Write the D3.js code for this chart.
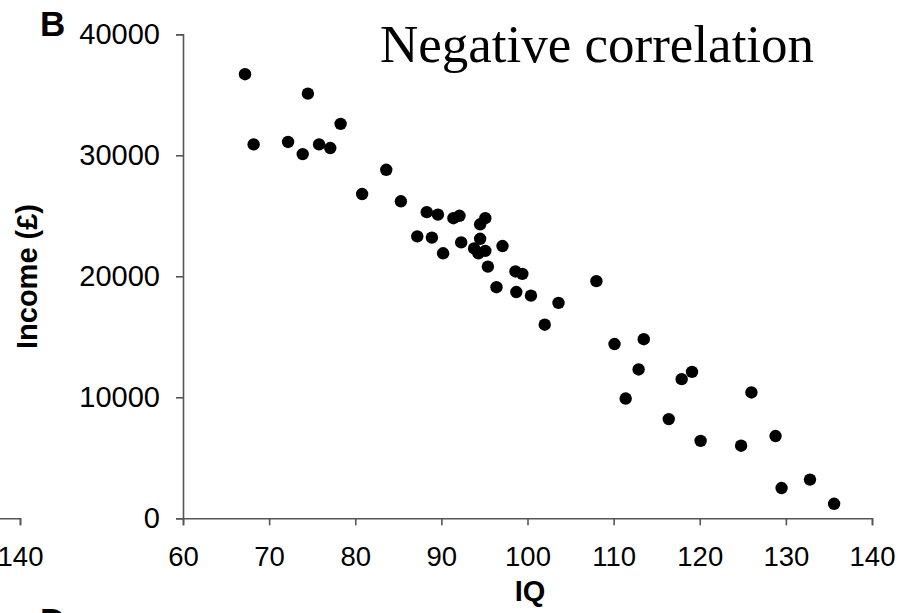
<!DOCTYPE html>
<html>
<head>
<meta charset="utf-8">
<script src="https://cdnjs.cloudflare.com/ajax/libs/d3/7.8.5/d3.min.js"></script>
<style>
  body { margin: 0; background: #fff; }
  .axis text { font-family: "Liberation Sans", Arial, sans-serif; font-size: 27.5px; fill: #000; }
  .y-axis text { font-size: 29px; }
  .axis path, .axis line { stroke: #555; stroke-width: 1.6px; }
</style>
</head>
<body>
<div id="chart"></div>
<script>
// IQ vs income
var iq = [67.2, 68.2, 74.5, 72.2, 73.9, 75.8, 77.1, 78.3, 83.6, 80.8,
  85.3, 88.3, 89.6, 91.4, 92.1, 95.1, 94.5, 87.2, 88.9, 90.2,
  92.3, 94.5, 93.8, 94.3, 95.1, 97.1, 95.4, 98.6, 99.4, 96.4,
  98.7, 100.4, 103.6, 108.0, 102.0, 110.1, 113.5, 112.9, 111.4, 117.9,
  119.1, 126.0, 116.4, 120.1, 124.8, 128.8, 129.5, 132.8, 135.6];
var income = [36700, 30900, 35100, 31100, 30100, 30900, 30600, 32600, 28800, 26800,
  26200, 25300, 25100, 24800, 25000, 24800, 24300, 23300, 23200, 21900,
  22800, 23100, 22300, 21900, 22100, 22500, 20800, 20400, 20200, 19100,
  18700, 18400, 17800, 19600, 16000, 14400, 14800, 12300, 9900, 11500,
  12100, 10400, 8200, 6400, 6000, 6800, 2500, 3200, 1200];
var xTicks = [60, 70, 80, 90, 100, 110, 120, 130, 140];
var yTicks = [0, 10000, 20000, 30000, 40000];
// only the last tick of the panel to the left is in frame
var prevTicks = [140];

var svgWidth = 909, svgHeight = 613;
var plot = { left: 183, right: 872, top: 34.3, bottom: 518.3 };

var svg = d3.select("#chart")
  .append("svg")
  .attr("width", svgWidth)
  .attr("height", svgHeight);

var xScale = d3.scaleLinear().domain([60, 140]).range([plot.left, plot.right]);
var yScale = d3.scaleLinear().domain([0, 40000]).range([plot.bottom, plot.top]);

// x axis
svg.append("g")
  .attr("class", "axis")
  .attr("transform", `translate(0, ${plot.bottom})`)
  .call(d3.axisBottom(xScale).tickValues(xTicks).tickFormat(d3.format("d"))
    .tickSize(7).tickSizeOuter(7).tickPadding(21));

// y axis
svg.append("g")
  .attr("class", "axis y-axis")
  .attr("transform", `translate(${plot.left}, 0)`)
  .call(d3.axisLeft(yScale).tickValues(yTicks).tickFormat(d3.format("d"))
    .tickSize(7).tickSizeOuter(7).tickPadding(16));

// the neighbouring panel's x axis, cut off at the left edge
var prevScale = d3.scaleLinear().domain([60, 140]).range([20 - (plot.right - plot.left), 20]);
svg.append("g")
  .attr("class", "axis")
  .attr("transform", `translate(0, ${plot.bottom})`)
  .call(d3.axisBottom(prevScale).tickValues(prevTicks).tickFormat(d3.format("d"))
    .tickSize(7).tickSizeOuter(7).tickPadding(21));

// points
svg.append("g")
  .selectAll("circle")
  .data(iq)
  .enter()
  .append("circle")
  .attr("cx", d => xScale(d))
  .attr("cy", (d, i) => yScale(income[i]))
  .attr("r", 6.2)
  .attr("fill", "#000");

// axis titles
svg.append("text")
  .attr("x", 530)
  .attr("y", 601)
  .attr("text-anchor", "middle")
  .style("font-family", "Liberation Sans, Arial, sans-serif")
  .style("font-weight", "bold")
  .style("font-size", "29px")
  .text("IQ");

svg.append("text")
  .attr("transform", "rotate(-90)")
  .attr("x", -276.5)
  .attr("y", 37)
  .attr("text-anchor", "middle")
  .style("font-family", "Liberation Sans, Arial, sans-serif")
  .style("font-weight", "bold")
  .style("font-size", "29px")
  .text("Income (£)");

// panel letters
svg.append("text")
  .attr("x", 40)
  .attr("y", 36)
  .style("font-family", "Liberation Sans, Arial, sans-serif")
  .style("font-weight", "bold")
  .style("font-size", "35px")
  .text("B");

svg.append("text")
  .attr("x", 40)
  .attr("y", 633)
  .style("font-family", "Liberation Sans, Arial, sans-serif")
  .style("font-weight", "bold")
  .style("font-size", "35px")
  .text("D");

// title
svg.append("text")
  .attr("x", 380)
  .attr("y", 62)
  .style("font-family", "Liberation Serif, Times New Roman, serif")
  .style("font-size", "53px")
  .text("Negative correlation");
</script>
</body>
</html>
